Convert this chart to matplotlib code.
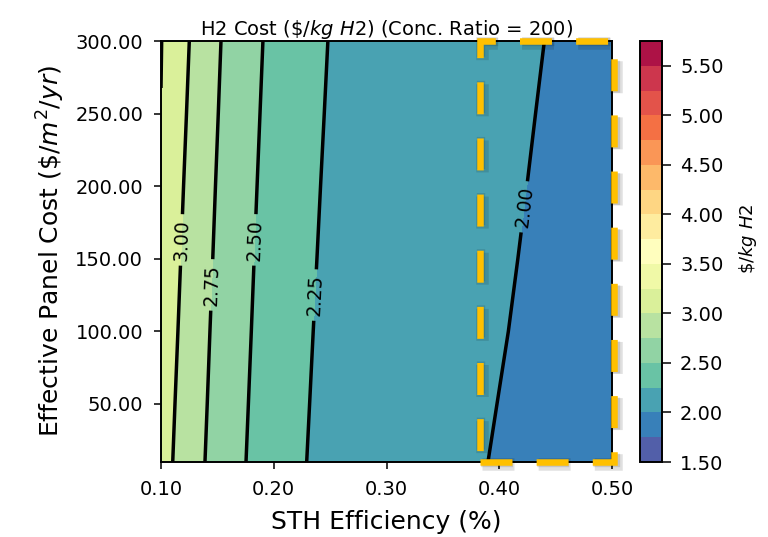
import numpy as np
import matplotlib
matplotlib.use("Agg")
import matplotlib.pyplot as plt
from matplotlib.patches import Rectangle
import matplotlib.patheffects as pe

# ---- data (H2 cost, $/kg H2) ----
sth_eff = [0.100, 0.106, 0.130, 0.135, 0.158, 0.170, 0.195, 0.222, 0.255, 0.300, 0.350, 0.385, 0.445, 0.500]
panel_cost = [10, 50, 100, 150, 200, 250, 300]
h2_cost_p10 = [3.10, 3.0449, 2.80, 2.79, 2.56, 2.5523, 2.31, 2.2919, 2.10, 2.07, 2.04, 2.0109, 1.88, 1.85]
h2_cost_p50 = [3.11, 3.0545, 2.85, 2.83, 2.5233, 2.52, 2.4533, 2.33, 2.0606, 2.05, 2.035, 2.02, 1.9277, 1.90]
h2_cost_p100 = [3.12, 3.06, 2.90, 2.87, 2.5414, 2.54, 2.441, 2.38, 2.05, 2.04, 2.03, 2.02, 1.968, 1.95]
h2_cost_p150 = [3.18, 3.15, 2.837, 2.83, 2.6612, 2.65, 2.3524, 2.35, 2.1475, 2.09, 2.06, 2.04, 1.9638, 1.94]
h2_cost_p200 = [3.2474, 3.20, 2.8571, 2.85, 2.6771, 2.67, 2.3904, 2.38, 2.16, 2.11, 2.07, 2.052, 1.973, 1.94]
h2_cost_p250 = [3.2494, 3.22, 2.902, 2.89, 2.6862, 2.68, 2.4272, 2.42, 2.1739, 2.13, 2.09, 2.07, 1.981, 1.945]
h2_cost_p300 = [3.2511, 3.24, 2.9384, 2.93, 2.7025, 2.70, 2.4549, 2.45, 2.1962, 2.15, 2.10, 2.088, 1.992, 1.95]

cost_levels = [1.50, 1.75, 2.00, 2.25, 2.50, 2.75, 3.00, 3.25, 3.50, 3.75, 4.00,
               4.25, 4.50, 4.75, 5.00, 5.25, 5.50, 5.75]
colorbar_ticks = [1.5, 2.0, 2.5, 3.0, 3.5, 4.0, 4.5, 5.0, 5.5]
x_ticks = [0.1, 0.2, 0.3, 0.4, 0.5]
y_ticks = [50, 100, 150, 200, 250, 300]

# highlighted region (STH efficiency window)
highlight_eff = [0.383, 0.502]
highlight_cost = [10, 300]

# inline label anchor points (efficiency, panel cost) for 2.00 ... 3.00
label_eff = [0.4198, 0.2365, 0.1833, 0.1448, 0.1175]
label_cost = [186, 125, 163, 132, 163]

# ---- figure ----
fig = plt.figure(figsize=(7.68, 5.37), dpi=100)
W, H = 768, 537
ax = fig.add_axes([161 / W, 1 - 462 / H, 451 / W, 421 / H])
cax = fig.add_axes([640 / W, 1 - 462 / H, 22 / W, 421 / H])

Xg, Yg = np.meshgrid(sth_eff, panel_cost)
Z = np.array([h2_cost_p10, h2_cost_p50, h2_cost_p100, h2_cost_p150,
              h2_cost_p200, h2_cost_p250, h2_cost_p300])

cf = ax.contourf(Xg, Yg, Z, levels=cost_levels, cmap="Spectral_r")
cs = ax.contour(Xg, Yg, Z, levels=cost_levels, colors="black", linewidths=2.5)
ax.clabel(cs, inline=True, fmt="%.2f", fontsize=13.5,
          manual=list(zip(label_eff, label_cost)))

ax.set_xticks(x_ticks)
ax.set_yticks(y_ticks)
ax.xaxis.set_major_formatter(matplotlib.ticker.FormatStrFormatter("%.2f"))
ax.yaxis.set_major_formatter(matplotlib.ticker.FormatStrFormatter("%.2f"))
ax.tick_params(labelsize=14, length=5.3, width=1.1, pad=7.5)
ax.set_xlabel("STH Efficiency (%)", fontsize=18, labelpad=8)
ax.set_ylabel(r"Effective Panel Cost ($\$/m^2/yr$)", fontsize=18, labelpad=6)
ax.set_title(r"H2 Cost ($\$/kg\ H2$) (Conc. Ratio = 200)", fontsize=14, pad=3)
for s in ax.spines.values():
    s.set_linewidth(1.4)

rect = Rectangle((highlight_eff[0], highlight_cost[0]),
                 highlight_eff[1] - highlight_eff[0],
                 highlight_cost[1] - highlight_cost[0],
                 fill=False, edgecolor="#FFC000", linewidth=4.7,
                 linestyle=(0, (4.9, 3.7)), clip_on=False, zorder=5)
rect.set_path_effects([
    pe.SimpleLineShadow(offset=(1.5, -1.5), shadow_color="black", alpha=0.12,
                        linewidth=9),
    pe.SimpleLineShadow(offset=(1.0, -1.0), shadow_color="black", alpha=0.12,
                        linewidth=6),
    pe.Normal(),
])
ax.add_patch(rect)

cb = fig.colorbar(cf, cax=cax, ticks=colorbar_ticks, format="%.2f")
cb.ax.tick_params(labelsize=14, length=6.5, width=1.1, pad=6.5)
cb.outline.set_linewidth(1.4)
cb.set_label(r"$\$/kg\ H2$", fontsize=13, labelpad=10)
cb.ax.yaxis.label.set_y(0.53)

fig.savefig("out.png", dpi=100)
